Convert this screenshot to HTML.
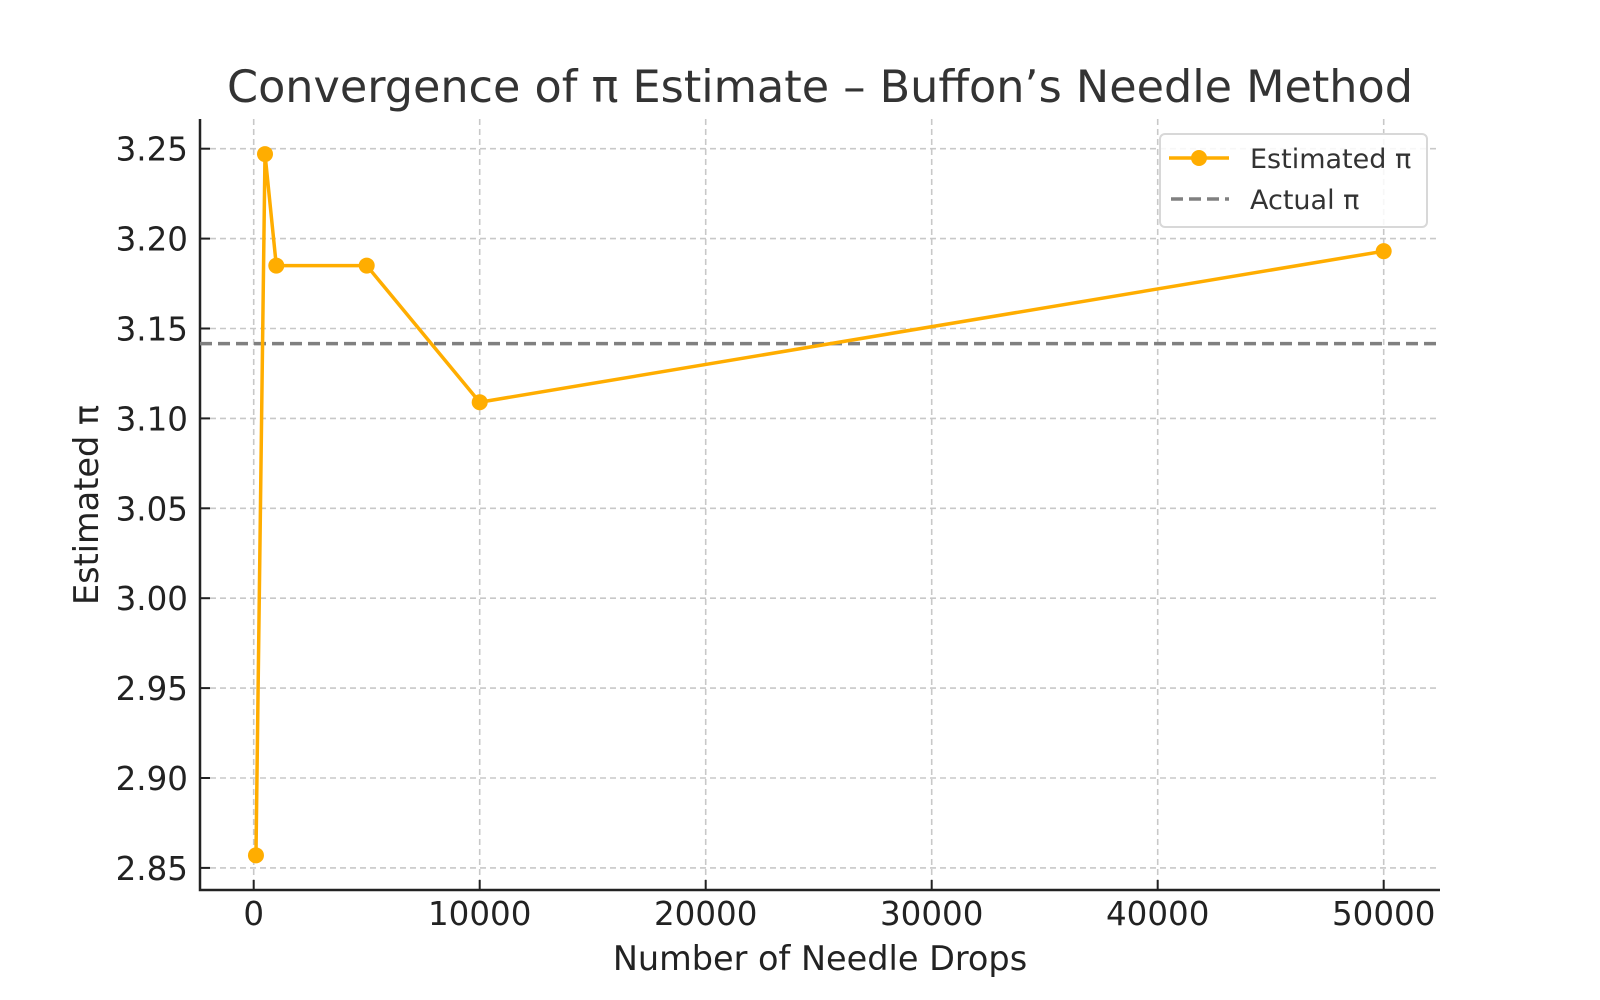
<!DOCTYPE html>
<html><head><meta charset="utf-8"><style>
body{margin:0;background:#fff}
svg{display:block;font-family:"DejaVu Sans","Liberation Sans",sans-serif}
</style></head><body>
<svg id="chart" width="1600" height="1000">
<g id="grid"></g><g id="axes"></g><g id="series"></g>
<text x="820" y="102" text-anchor="middle" font-size="44.5" fill="#333">Convergence of π Estimate – Buffon’s Needle Method</text>
<text x="820" y="980" text-anchor="middle" font-size="33.5" fill="#222" transform="translate(0,-10)">Number of Needle Drops</text>
<text transform="translate(98,505) rotate(-90)" text-anchor="middle" font-size="33.5" fill="#222">Estimated π</text>
<g>
<rect x="1160" y="134" width="267" height="93" rx="5" fill="#fff" fill-opacity="0.85" stroke="#d8d8d8" stroke-width="2"/>
<g>
<line x1="1169" y1="158" x2="1229" y2="158" stroke="#ffad00" stroke-width="3.5"/>
<circle cx="1199" cy="158" r="8" fill="#ffad00"/>
<text x="1250" y="168" font-size="27" fill="#333">Estimated π</text></g>
<g>
<line x1="1171" y1="199" x2="1229" y2="199" stroke="#808080" stroke-width="3.5" stroke-dasharray="12,6"/>
<text x="1250" y="209" font-size="27" fill="#333">Actual π</text></g>
</g>
</svg>
<script>
const drops=[100,500,1000,5000,10000,50000];
const estimates=[2.857,3.247,3.185,3.185,3.109,3.193];
const actualPi=3.14159;
const xTicks=[0,10000,20000,30000,40000,50000];
const yTicks=[2.85,2.90,2.95,3.00,3.05,3.10,3.15,3.20,3.25];
const ns="http://www.w3.org/2000/svg";
const L=200,R=1440,T=119,B=890;
const X=v=>253.7+v*0.0226;
const Y=v=>148.7+(3.25-v)*1798;
function mk(tag,attrs,parent,text){const e=document.createElementNS(ns,tag);for(const k in attrs)e.setAttribute(k,attrs[k]);if(text!==undefined)e.textContent=text;document.getElementById(parent).appendChild(e);return e;}
xTicks.forEach(t=>{
 const g=mk('line',{x1:X(t),x2:X(t),y1:T,y2:B,stroke:'#c8c8c8','stroke-width':1.6,'stroke-dasharray':'6,4'},'grid');
 
 
 const tk=mk('line',{x1:X(t),x2:X(t),y1:B,y2:B-10,stroke:'#222','stroke-width':2},'axes');
 
 
 const lb=mk('text',{x:X(t),y:925,'text-anchor':'middle','font-size':32.5,fill:'#222'},'axes',String(t));
 
 
});
yTicks.forEach(t=>{
 const g=mk('line',{x1:L,x2:R,y1:Y(t),y2:Y(t),stroke:'#c8c8c8','stroke-width':1.6,'stroke-dasharray':'6,4'},'grid');
 
 
 const tk=mk('line',{x1:L,x2:L+10,y1:Y(t),y2:Y(t),stroke:'#222','stroke-width':2},'axes');
 
 
 const lb=mk('text',{x:188,y:Y(t)+12,'text-anchor':'end','font-size':32.5,fill:'#222'},'axes',t.toFixed(2));
 
 
});
const sp=mk('path',{d:`M${L} ${T}V${B}H${R}`,fill:'none',stroke:'#222','stroke-width':2.5},'axes');


const ref=mk('line',{x1:L,x2:R,y1:Y(actualPi),y2:Y(actualPi),stroke:'#808080','stroke-width':3.5,'stroke-dasharray':'12,6'},'series');


const ln=mk('polyline',{points:drops.map((d,i)=>X(d)+','+Y(estimates[i])).join(' '),fill:'none',stroke:'#ffad00','stroke-width':3.5,'stroke-linejoin':'round'},'series');


drops.forEach((d,i)=>{
 const c=mk('circle',{cx:X(d),cy:Y(estimates[i]),r:8,fill:'#ffad00'},'series');
 
 
});
</script>
</body></html>
